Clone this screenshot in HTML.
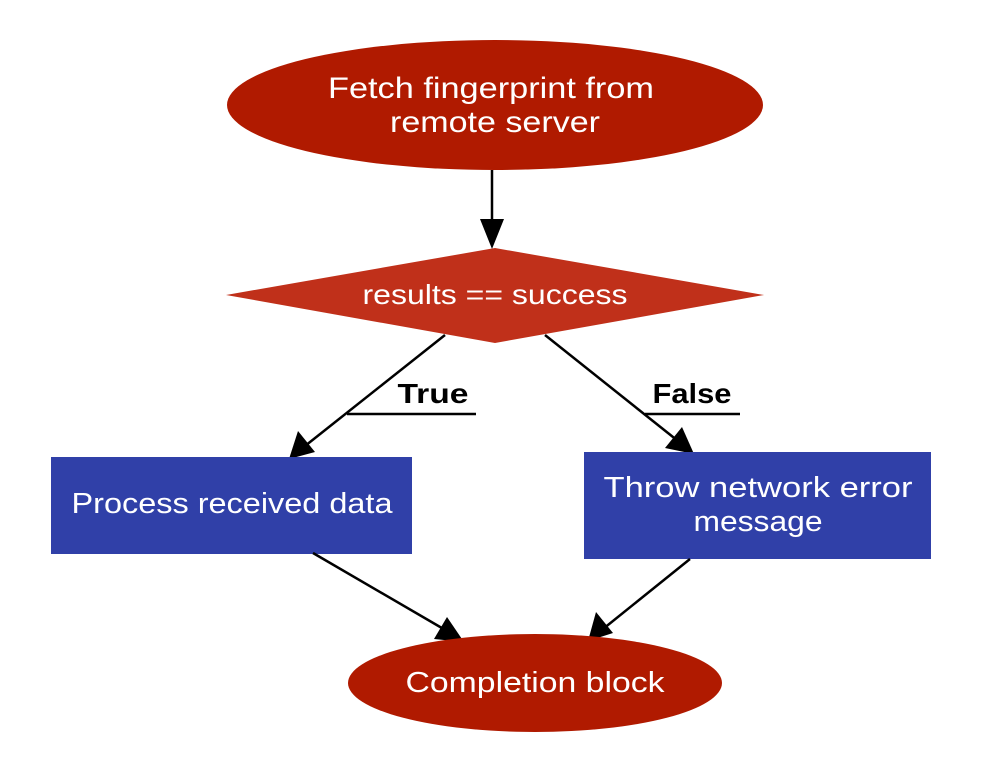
<!DOCTYPE html>
<html><head><meta charset="utf-8"><style>html,body{margin:0;padding:0;background:#fff}svg{display:block}</style></head>
<body>
<svg width="988" height="768" viewBox="0 0 988 768" xmlns="http://www.w3.org/2000/svg" font-family="'Liberation Sans', sans-serif">
<style>.l{stroke:#000;stroke-width:2.5;fill:none}</style>
<ellipse cx="495" cy="105" rx="268" ry="65" fill="#b01a00"/>
<text x="491" y="98" fill="#fff" font-size="30" text-anchor="middle" textLength="326" lengthAdjust="spacingAndGlyphs">Fetch fingerprint from</text>
<text x="495" y="132" fill="#fff" font-size="30" text-anchor="middle" textLength="210" lengthAdjust="spacingAndGlyphs">remote server</text>
<line x1="492" y1="170" x2="492" y2="224" class="l"/>
<path d="M480,219 L504,219 L492,249 z" fill="#000"/>
<polygon points="226,295 495,248 764,295 495,343" fill="#c0301a"/>
<text x="495" y="304" fill="#fff" font-size="28" text-anchor="middle" textLength="265" lengthAdjust="spacingAndGlyphs">results == success</text>
<line x1="445" y1="335" x2="305" y2="446" class="l"/>
<path d="M289,459 L298,431 L315,452 z" fill="#000"/>
<line x1="347" y1="414" x2="476" y2="414" class="l"/>
<text x="433" y="403" font-size="28" font-weight="bold" text-anchor="middle" textLength="71" lengthAdjust="spacingAndGlyphs">True</text>
<line x1="545" y1="335" x2="678" y2="441" class="l"/>
<path d="M694,454 L665,448 L682,427 z" fill="#000"/>
<line x1="645" y1="414" x2="740" y2="414" class="l"/>
<text x="692" y="403" font-size="28" font-weight="bold" text-anchor="middle" textLength="79" lengthAdjust="spacingAndGlyphs">False</text>
<rect x="51" y="457" width="361" height="97" fill="#3040a8"/>
<text x="232" y="513" fill="#fff" font-size="29" text-anchor="middle" textLength="321" lengthAdjust="spacingAndGlyphs">Process received data</text>
<rect x="584" y="452" width="347" height="107" fill="#3040a8"/>
<text x="758" y="497" fill="#fff" font-size="29" text-anchor="middle" textLength="309" lengthAdjust="spacingAndGlyphs">Throw network error</text>
<text x="758" y="531" fill="#fff" font-size="29" text-anchor="middle" textLength="129" lengthAdjust="spacingAndGlyphs">message</text>
<line x1="313" y1="553" x2="447" y2="631" class="l"/>
<path d="M464,642 L434,639 L447,617 z" fill="#000"/>
<line x1="690" y1="559" x2="603" y2="629" class="l"/>
<path d="M588,641 L596,612 L613,633 z" fill="#000"/>
<ellipse cx="535" cy="683" rx="187" ry="49" fill="#b01a00"/>
<text x="535" y="692" fill="#fff" font-size="29" text-anchor="middle" textLength="259" lengthAdjust="spacingAndGlyphs">Completion block</text>
</svg>
</body></html>
